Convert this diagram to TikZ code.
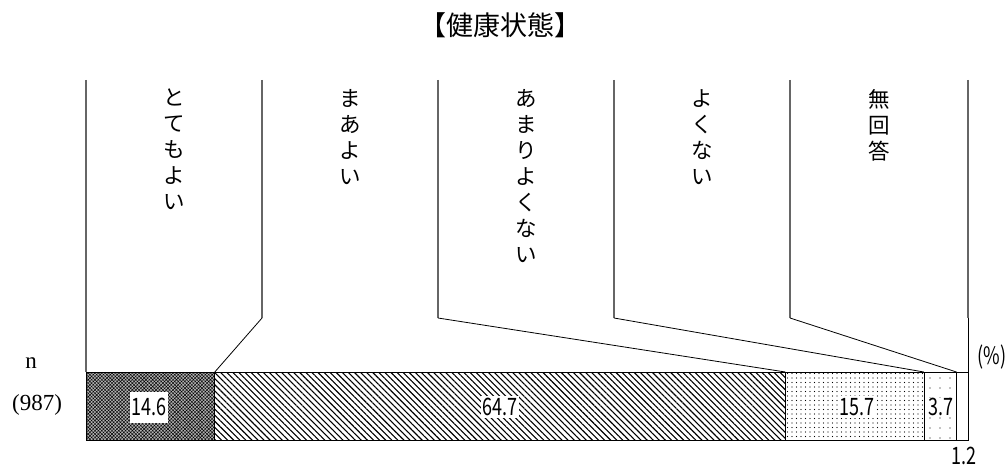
\documentclass[tikz,border=0pt]{standalone}
\usepackage{fontspec}
\setmainfont{Liberation Serif}
\newfontfamily\jp{Noto Sans CJK JP}
\usetikzlibrary{positioning}
\usetikzlibrary{patterns.meta}
\definecolor{colgray}{rgb}{0.4,0.4,0.4}

\begin{document}
\begin{tikzpicture}[%
  x=1pt, y=-1pt,
  colline/.style={line width=2.4pt, colgray},
  leader/.style={line width=0.8pt, black},
  seg/.style={draw=black, line width=0.8pt},
  vlabel/.style={font=\jp\fontsize{21.5}{26}\selectfont, align=center, anchor=north, inner sep=0pt},
  val/.style={font=\jp\fontsize{24}{24}\selectfont, fill=white, inner sep=2pt, xscale=0.75},
]

  \useasboundingbox (0,0) rectangle (1007,468);

  % title
  \node[font=\jp\fontsize{27}{27}\selectfont] (title) at (500,25) {【健康状態】};

  % column bottoms
  \coordinate (c0) at (86,318);
  \coordinate (c1) at (262,318);
  \coordinate (c2) at (438,318);
  \coordinate (c3) at (614,318);
  \coordinate (c4) at (790,318);
  \coordinate (c5) at (968,318);

  % bar borders
  \coordinate (b0) at (86,372);
  \coordinate (b1) at (214.8,372);
  \coordinate (b2) at (785.4,372);
  \coordinate (b3) at (923.9,372);
  \coordinate (b4) at (956.5,372);
  \coordinate (b5) at (968,372);

  \draw[colline] (86,80) -- (c0);
  \draw[colline] (262,80) -- (c1);
  \draw[colline] (438,80) -- (c2);
  \draw[colline] (614,80) -- (c3);
  \draw[colline] (790,80) -- (c4);
  \draw[colline] (968,80) -- (c5);

  \node[vlabel] (l1) at (174,89) {と\\て\\も\\よ\\い};
  \node[vlabel] (l2) at (350,89) {ま\\あ\\よ\\い};
  \node[vlabel] (l3) at (526,89) {あ\\ま\\り\\よ\\く\\な\\い};
  \node[vlabel] (l4) at (702,89) {よ\\く\\な\\い};
  \node[vlabel] (l5) at (879,89) {無\\回\\答};

  \draw[leader, colgray, line width=1.3pt] (c0) -- (b0);
  \draw[leader] (c1) -- (b1);
  \draw[leader] (c2) -- (b2);
  \draw[leader] (c3) -- (b3);
  \draw[leader] (c4) -- (b4);
  \draw[leader] (c5) -- (b5);

  % bar
  \draw[seg, fill=black!30, postaction={pattern={Hatch[angle=45,distance=2.4pt,line width=0.45pt]}}]
    (b0) rectangle (214.8,440);
  \draw[seg, pattern={Lines[angle=-45,distance=4.3pt,line width=1.1pt]}]
    (b1) rectangle (785.4,440);
  \draw[seg, pattern={Dots[radius=0.65pt,distance=4.5pt]}]
    (b2) rectangle (923.9,440);
  \draw[seg, pattern={Dots[radius=0.65pt,distance=10pt]}]
    (b3) rectangle (956.5,440);
  \draw[seg] (b4) rectangle (968,440);

  \node[val, minimum height=31pt] (v1) at (149,407) {14.6};
  \node[val] (v2) at (500,407) {64.7};
  \node[val] (v3) at (857,407) {15.7};
  \node[val, inner sep=0.5pt] (v4) at (941,407) {3.7};
  \node[val, fill=none] (v5) at (964,456) {1.2};
  \node[val, fill=none] (pct) at (992,357) {(\%)};

  \node[font=\fontsize{23}{23}\selectfont] (n) at (31,363) {n};
  \node[font=\fontsize{23}{23}\selectfont] (num) at (37,405) {(987)};

\end{tikzpicture}
\end{document}
